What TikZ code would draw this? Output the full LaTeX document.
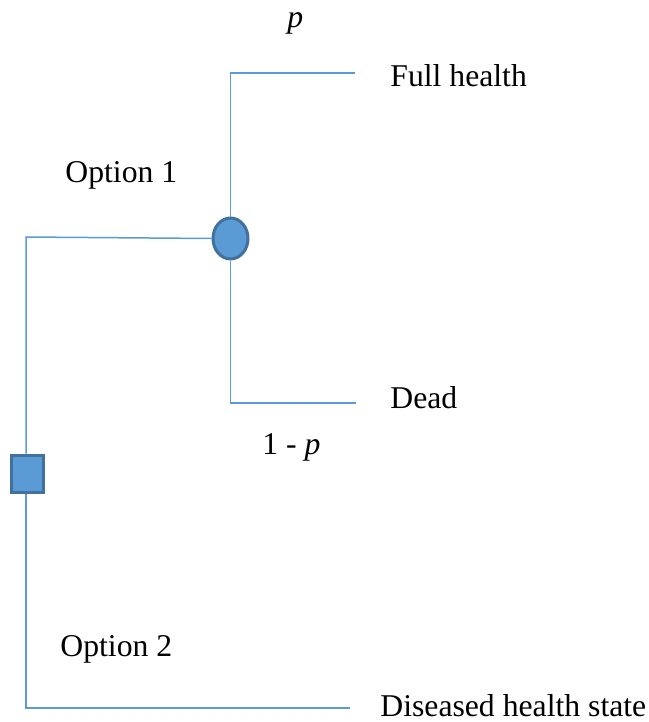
\documentclass[tikz,border=0pt]{standalone}
\usepackage{fontspec}
\setmainfont{Liberation Serif}
\usetikzlibrary{shapes.geometric}
\definecolor{branch}{RGB}{91,155,213}
\definecolor{nodefill}{RGB}{91,155,213}
\definecolor{nodeedge}{RGB}{65,113,156}
\tikzset{
  br/.style={draw=branch, line width=0.75pt},
  lbl/.style={anchor=base west, inner sep=0pt, font=\fontsize{15.85}{18}\selectfont},
  chance/.style={ellipse, draw=nodeedge, fill=nodefill, line width=1.5pt, minimum width=17.5pt, minimum height=20.5pt, inner sep=0pt},
  decision/.style={rectangle, draw=nodeedge, fill=nodefill, line width=1.5pt, minimum width=16pt, minimum height=18.5pt, inner sep=0pt}
}
\begin{document}
\begin{tikzpicture}[x=0.5pt, y=-0.5pt]
\useasboundingbox (0,0) rectangle (648,722);
% nodes
\node[chance] (c) at (230.5,238.5) {};
\node[decision] (d) at (27.5,473.5) {};
\coordinate (tl) at (26,237);
\coordinate (bl) at (26,708);
\coordinate (ct) at (230.5,73);
\coordinate (cb) at (230.5,403);
\coordinate (fe) at (355,73);
\coordinate (de) at (356,403);
\coordinate (se) at (350,708);
% connectors
\draw[br] (d.north -| tl) -- (tl) -- (c.west);
\draw[br] (d.south -| bl) -- (bl) -- (se);
\draw[br] (c.north) -- (ct) -- (fe);
\draw[br] (c.south) -- (cb) -- (de);
% labels
\node[lbl] (lp) at (287,28) {\textit{p}};
\node[lbl] (lfull) at (390,87) {Full health};
\node[lbl] (lopt1) at (65,182) {Option 1};
\node[lbl] (ldead) at (390,408) {Dead};
\node[lbl] (l1mp) at (262,454) {1 - \textit{p}};
\node[lbl] (lopt2) at (60,656) {Option 2};
\node[lbl] (ldis) at (380,716) {Diseased health state};
\end{tikzpicture}
\end{document}
